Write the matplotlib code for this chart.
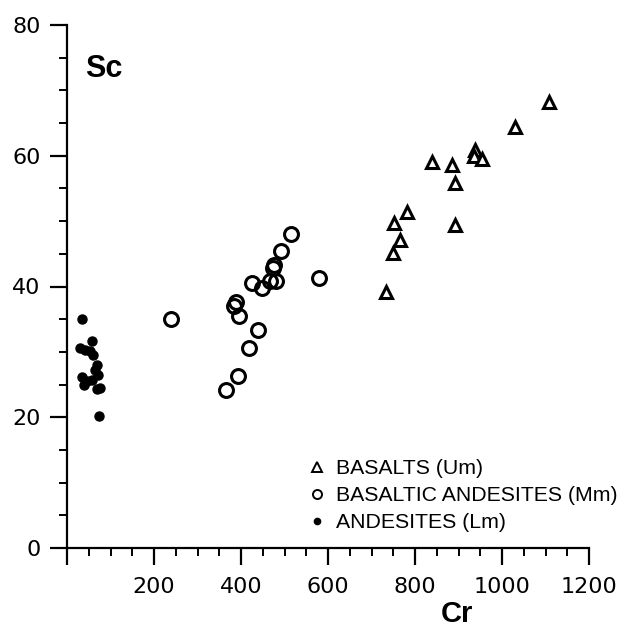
import matplotlib
matplotlib.use('Agg')
import matplotlib.pyplot as plt
from matplotlib.ticker import MultipleLocator
from matplotlib.lines import Line2D

# basalts (Um)
basalt_cr = [1107, 1031, 937, 935, 953, 838, 886, 891, 781, 752, 891, 765, 749, 733]
basalt_sc = [68.2, 64.4, 60.9, 60.0, 59.5, 59.1, 58.6, 55.8, 51.4, 49.7, 49.4, 47.1, 45.1, 39.2]

# basaltic andesites (Mm)
bas_and_cr = [240, 365, 392, 418, 440, 395, 385, 389, 426, 449, 467, 480, 474, 476, 580, 492, 515]
bas_and_sc = [35.0, 24.2, 26.3, 30.6, 33.4, 35.5, 37.0, 37.7, 40.6, 39.7, 40.9, 40.9, 42.8, 43.3, 41.3, 45.4, 48.0]

# andesites (Lm)
andesite_cr = [34, 57, 30, 41, 52, 60, 68, 64, 72, 34, 45, 57, 40, 76, 70, 74]
andesite_sc = [35.0, 31.6, 30.6, 30.3, 30.1, 29.5, 28.0, 27.2, 26.5, 26.2, 25.5, 25.7, 25.0, 24.5, 24.3, 20.2]

x_ticks = [0, 200, 400, 600, 800, 1000, 1200]
x_ticklabels = ['', '200', '400', '600', '800', '1000', '1200']
y_ticks = [0, 20, 40, 60, 80]

fig = plt.figure(figsize=(6.22, 6.32), dpi=100)
ax = fig.add_axes([67/622, 84/632, 522/622, 523/632])

ax.plot(basalt_cr, basalt_sc, linestyle='none', marker='^', markersize=9,
        markerfacecolor='white', markeredgecolor='black', markeredgewidth=2.2)
ax.plot(bas_and_cr, bas_and_sc, linestyle='none', marker='o', markersize=10,
        markerfacecolor='none', markeredgecolor='black', markeredgewidth=2.2)
ax.plot(andesite_cr, andesite_sc, linestyle='none', marker='o', markersize=6.5,
        color='black')

ax.set_xlim(0, 1200)
ax.set_ylim(0, 80)
ax.spines['top'].set_visible(False)
ax.spines['right'].set_visible(False)
ax.spines['left'].set_linewidth(1.6)
ax.spines['bottom'].set_linewidth(1.6)

ax.set_xticks(x_ticks)
ax.set_xticklabels(x_ticklabels)
ax.set_yticks(y_ticks)
ax.xaxis.set_minor_locator(MultipleLocator(50))
ax.yaxis.set_minor_locator(MultipleLocator(5))
ax.tick_params(axis='both', which='major', direction='out', length=12, width=1.6,
               labelsize=16, colors='black')
ax.tick_params(axis='both', which='minor', direction='out', length=6, width=1.4)
ax.tick_params(axis='y', which='major', pad=7)
ax.tick_params(axis='x', which='major', pad=9)

ax.text(0.034, 0.916, 'Sc', transform=ax.transAxes, fontsize=22, fontweight='bold',
        family='Liberation Sans', ha='left', va='center')
fig.text(457/622, 1 - 614/632, 'Cr', fontsize=21, fontweight='bold',
         family='Liberation Sans', ha='center', va='center')

handles = [
    Line2D([], [], linestyle='none', marker='^', markersize=6.5, markerfacecolor='white',
           markeredgecolor='black', markeredgewidth=1.4),
    Line2D([], [], linestyle='none', marker='o', markersize=6.5, markerfacecolor='white',
           markeredgecolor='black', markeredgewidth=1.4),
    Line2D([], [], linestyle='none', marker='o', markersize=4.5, color='black'),
]
labels = ['BASALTS (Um)', 'BASALTIC ANDESITES (Mm)', 'ANDESITES (Lm)']
leg = ax.legend(handles, labels, loc='lower left', bbox_to_anchor=(0.465, 0.03),
                frameon=False, prop={'family': 'Liberation Sans', 'size': 15.3},
                handlelength=0.7, handletextpad=0.55, labelspacing=0.38,
                borderaxespad=0, borderpad=0)
leg.set_clip_on(False)

fig.savefig('out.png', dpi=100)
